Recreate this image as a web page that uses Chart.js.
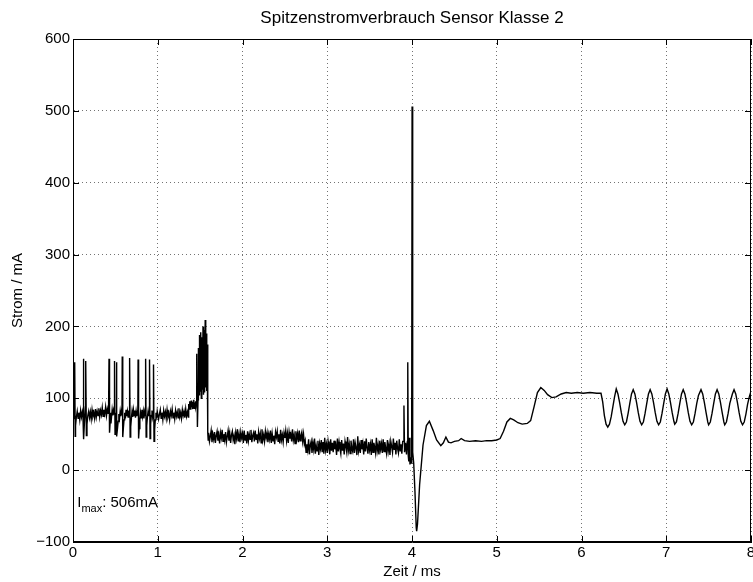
<!DOCTYPE html>
<html>
<head>
<meta charset="utf-8">
<script src="https://cdn.jsdelivr.net/npm/chart.js@4.4.0/dist/chart.umd.min.js"></script>
<style>
  html, body { margin: 0; padding: 0; background: #fff; }
</style>
</head>
<body>
<canvas id="stromChart" width="753" height="582"></canvas>
<script>
// Abschnitt A: Grundlast mit Spitzen
const zeitA = [0.000, 0.010, 0.020, 0.026, 0.030, 0.040, 0.050, 0.060, 0.070, 0.080,
  0.090, 0.100, 0.110, 0.118, 0.122, 0.128, 0.135, 0.143, 0.148, 0.152,
  0.158, 0.165, 0.175, 0.185, 0.195, 0.205, 0.215, 0.225, 0.235, 0.245,
  0.255, 0.265, 0.275, 0.285, 0.295, 0.305, 0.315, 0.325, 0.335, 0.345,
  0.355, 0.365, 0.375, 0.385, 0.395, 0.405, 0.415, 0.420, 0.425, 0.431,
  0.438, 0.446, 0.454, 0.462, 0.470, 0.478, 0.485, 0.490, 0.496, 0.503,
  0.508, 0.512, 0.518, 0.525, 0.533, 0.541, 0.549, 0.557, 0.565, 0.573,
  0.578, 0.581, 0.587, 0.594, 0.602, 0.610, 0.618, 0.626, 0.634, 0.642,
  0.650, 0.658, 0.664, 0.668, 0.674, 0.681, 0.689, 0.697, 0.705, 0.713,
  0.721, 0.729, 0.737, 0.745, 0.753, 0.761, 0.765, 0.768, 0.774, 0.781,
  0.789, 0.797, 0.805, 0.813, 0.821, 0.829, 0.837, 0.845, 0.852, 0.857,
  0.863, 0.870, 0.878, 0.886, 0.894, 0.899, 0.903, 0.909, 0.916, 0.924,
  0.932, 0.940, 0.946, 0.950, 0.956, 0.963, 0.971, 0.979, 0.987, 0.994];
const stromA = [78, 71, 150, 47, 62, 74, 82, 72, 80, 70,
  83, 74, 81, 73, 155, 43, 66, 80, 74, 152,
  48, 64, 76, 82, 73, 81, 71, 84, 75, 80,
  72, 85, 74, 82, 76, 86, 74, 83, 77, 87,
  75, 84, 78, 88, 76, 85, 79, 89, 155, 52,
  66, 80, 73, 84, 76, 83, 78, 152, 50, 70,
  80, 150, 47, 58, 68, 78, 72, 82, 75, 83,
  77, 158, 46, 58, 70, 80, 72, 84, 75, 82,
  74, 83, 77, 156, 46, 60, 72, 82, 74, 84,
  76, 83, 73, 82, 75, 81, 76, 154, 44, 58,
  70, 80, 73, 84, 75, 82, 72, 81, 76, 155,
  46, 62, 74, 82, 75, 80, 154, 44, 64, 76,
  83, 74, 79, 147, 40, 56, 70, 80, 72, 82];

// Abschnitt B: Stufe und Spitzen um 1.5 ms
const zeitB = [1.00, 1.01, 1.02, 1.03, 1.04, 1.05, 1.06, 1.07, 1.08, 1.09,
  1.10, 1.11, 1.12, 1.13, 1.14, 1.15, 1.16, 1.17, 1.18, 1.19,
  1.20, 1.21, 1.22, 1.23, 1.24, 1.25, 1.26, 1.27, 1.28, 1.29,
  1.30, 1.31, 1.32, 1.33, 1.34, 1.35, 1.36,
  1.365, 1.37, 1.375, 1.38, 1.385, 1.39, 1.395, 1.40, 1.405, 1.41, 1.415, 1.42, 1.425, 1.43, 1.435, 1.44, 1.445, 1.45, 1.455,
  1.46, 1.468, 1.475, 1.48, 1.487, 1.493, 1.50, 1.507, 1.514, 1.52, 1.527, 1.534, 1.54, 1.547, 1.553, 1.56, 1.566, 1.572,
  1.578, 1.583, 1.59, 1.595];
const stromB = [82, 71, 78, 84, 72, 80, 70, 83, 75, 81,
  72, 84, 74, 79, 70, 82, 76, 85, 73, 80,
  71, 83, 75, 81, 73, 86, 74, 80, 72, 84,
  76, 82, 73, 85, 75, 81, 74,
  92, 85, 96, 86, 94, 84, 97, 88, 95, 85, 93, 87, 98, 86, 94, 89, 96, 88, 92,
  162, 60, 98, 170, 105, 188, 110, 192, 100, 185, 112, 200, 105, 195, 108, 209, 115, 190,
  110, 175, 52, 42];

// Abschnitt C: Rauschen um 45 mA
const zeitC = [1.60, 1.61, 1.62, 1.63, 1.64, 1.65, 1.66, 1.67, 1.68, 1.69,
  1.70, 1.71, 1.72, 1.73, 1.74, 1.75, 1.76, 1.77, 1.78, 1.79,
  1.80, 1.81, 1.82, 1.83, 1.84, 1.85, 1.86, 1.87, 1.88, 1.89,
  1.90, 1.91, 1.92, 1.93, 1.94, 1.95, 1.96, 1.97, 1.98, 1.99,
  2.00, 2.01, 2.02, 2.03, 2.04, 2.05, 2.06, 2.07, 2.08, 2.09,
  2.10, 2.11, 2.12, 2.13, 2.14, 2.15, 2.16, 2.17, 2.18, 2.19,
  2.20, 2.21, 2.22, 2.23, 2.24, 2.25, 2.26, 2.27, 2.28, 2.29,
  2.30, 2.31, 2.32, 2.33, 2.34, 2.35, 2.36, 2.37, 2.38, 2.39,
  2.40, 2.41, 2.42, 2.43, 2.44, 2.45, 2.46, 2.47, 2.48, 2.49,
  2.50, 2.51, 2.52, 2.53, 2.54, 2.55, 2.56, 2.57, 2.58, 2.59,
  2.60, 2.61, 2.62, 2.63, 2.64, 2.65, 2.66, 2.67, 2.68, 2.69,
  2.70, 2.71, 2.72, 2.73];
const stromC = [52, 40, 47, 55, 39, 50, 43, 53, 38, 48,
  54, 41, 49, 37, 52, 45, 56, 40, 50, 42,
  53, 39, 47, 55, 41, 51, 38, 49, 54, 42,
  48, 36, 52, 44, 57, 40, 50, 39, 53, 45,
  51, 38, 55, 42, 49, 37, 54, 41, 50, 43,
  56, 39, 48, 52, 40, 55, 43, 50, 37, 53,
  44, 51, 38, 57, 42, 49, 40, 54, 45, 52,
  39, 50, 43, 55, 38, 51, 41, 48, 36, 53,
  46, 54, 40, 50, 37, 56, 42, 49, 39, 52,
  45, 55, 41, 51, 38, 53, 44, 50, 40, 57,
  42, 49, 37, 54, 43, 51, 39, 55, 41, 48,
  53, 40, 50, 36];

// Abschnitt D: Rauschen um 33 mA
const zeitD = [2.74, 2.75, 2.76, 2.77, 2.78, 2.79,
  2.80, 2.81, 2.82, 2.83, 2.84, 2.85, 2.86, 2.87, 2.88, 2.89,
  2.90, 2.91, 2.92, 2.93, 2.94, 2.95, 2.96, 2.97, 2.98, 2.99,
  3.00, 3.01, 3.02, 3.03, 3.04, 3.05, 3.06, 3.07, 3.08, 3.09,
  3.10, 3.11, 3.12, 3.13, 3.14, 3.15, 3.16, 3.17, 3.18, 3.19,
  3.20, 3.21, 3.22, 3.23, 3.24, 3.25, 3.26, 3.27, 3.28, 3.29,
  3.30, 3.31, 3.32, 3.33, 3.34, 3.35, 3.36, 3.37, 3.38, 3.39,
  3.40, 3.41, 3.42, 3.43, 3.44, 3.45, 3.46, 3.47, 3.48, 3.49,
  3.50, 3.51, 3.52, 3.53, 3.54, 3.55, 3.56, 3.57, 3.58, 3.59,
  3.60, 3.61, 3.62, 3.63, 3.64, 3.65, 3.66, 3.67, 3.68, 3.69,
  3.70, 3.71, 3.72, 3.73, 3.74, 3.75, 3.76, 3.77, 3.78, 3.79,
  3.80, 3.81, 3.82, 3.83, 3.84, 3.85, 3.86, 3.87, 3.88, 3.89];
const stromD = [41, 25, 36, 28, 43, 22,
  35, 40, 24, 38, 29, 44, 23, 34, 27, 41,
  21, 37, 30, 42, 25, 39, 23, 45, 28, 36,
  24, 40, 31, 22, 43, 27, 38, 25, 41, 29,
  35, 21, 44, 26, 39, 30, 23, 42, 27, 37,
  22, 40, 33, 25, 46, 28, 36, 23, 41, 30,
  26, 43, 24, 38, 31, 21, 47, 27, 35, 24,
  42, 29, 37, 22, 40, 26, 44, 31, 23, 39,
  28, 36, 21, 43, 25, 38, 32, 24, 45, 27,
  35, 22, 41, 29, 37, 24, 43, 26, 39, 30,
  23, 42, 27, 36, 21, 40, 33, 25, 44, 28,
  38, 22, 41, 30, 24, 43, 27, 36, 23, 40];

// Abschnitt E: Einschaltspitze bei 4 ms
const zeitE = [3.895, 3.905, 3.912, 3.925, 3.935, 3.945, 3.950, 3.956, 3.962, 3.970, 3.976, 3.984, 3.990, 3.996, 4.001, 4.008,
  4.020, 4.035, 4.050, 4.055, 4.065, 4.090, 4.130, 4.170, 4.205, 4.250, 4.290, 4.340, 4.370, 4.400, 4.430, 4.460];
const stromE = [40, 90, 25, 38, 22, 40, 150, 20, 12, 45, 8, 18, 10, 22, 506, 25,
  10, -30, -80, -85, -75, -20, 35, 62, 68, 55, 42, 34, 38, 46, 39, 38];

// Abschnitt F: Stufen und Schwingung
const zeitF = [4.50, 4.55, 4.58, 4.62, 4.68, 4.75, 4.82, 4.88, 4.94, 5.00,
  5.04, 5.08, 5.12, 5.16, 5.20, 5.25, 5.30, 5.36, 5.40, 5.44,
  5.48, 5.52, 5.56, 5.60, 5.65, 5.70, 5.76, 5.82, 5.88, 5.95,
  6.02, 6.10, 6.18, 6.23,
  6.25, 6.27, 6.29, 6.31, 6.33, 6.35, 6.37, 6.39, 6.41,
  6.43, 6.45, 6.47, 6.49, 6.51, 6.53, 6.55, 6.57, 6.59, 6.61,
  6.63, 6.65, 6.67, 6.69, 6.71, 6.73, 6.75, 6.77, 6.79, 6.81,
  6.83, 6.85, 6.87, 6.89, 6.91, 6.93, 6.95, 6.97, 6.99, 7.01,
  7.03, 7.05, 7.07, 7.09, 7.10, 7.12, 7.14, 7.16, 7.18, 7.20,
  7.22, 7.24, 7.26, 7.28, 7.30, 7.32, 7.34, 7.36, 7.38, 7.41,
  7.43, 7.45, 7.47, 7.49, 7.50, 7.52, 7.54, 7.56, 7.58, 7.60,
  7.62, 7.64, 7.66, 7.68, 7.69, 7.71, 7.73, 7.75, 7.78, 7.80,
  7.82, 7.84, 7.86, 7.88, 7.90, 7.92, 7.94, 7.96, 7.98, 8.00];
const stromF = [40, 41, 44, 41, 40, 41, 40, 41, 41, 42,
  44, 54, 67, 72, 70, 66, 64, 65, 69, 88,
  108, 115, 111, 105, 101, 102, 106, 108, 107, 108,
  107, 108, 107, 107,
  95, 76, 64, 60, 64, 74, 88, 102, 113,
  106, 94, 80, 68, 63, 67, 79, 93, 106, 112,
  106, 94, 80, 68, 63, 67, 79, 93, 106, 112,
  106, 94, 80, 68, 63, 67, 79, 93, 106, 113,
  106, 94, 80, 68, 64, 67, 79, 93, 106, 112,
  106, 94, 80, 68, 63, 67, 79, 93, 104, 112,
  106, 94, 80, 67, 63, 67, 79, 93, 106, 112,
  106, 94, 80, 67, 63, 67, 79, 93, 106, 112,
  106, 94, 80, 68, 63, 67, 78, 92, 102, 110];

const xTicks = [0, 1, 2, 3, 4, 5, 6, 7, 8];
const yTicks = [-100, 0, 100, 200, 300, 400, 500, 600];
const iMax = 506; // mA

const FONT = "'Liberation Sans', Arial, Helvetica, sans-serif";

const zeit = [].concat(zeitA, zeitB, zeitC, zeitD, zeitE, zeitF);
const strom = [].concat(stromA, stromB, stromC, stromD, stromE, stromF);
const punkte = zeit.map((t, i) => ({ x: t, y: strom[i] }));

// MATLAB-Stil: Rahmen + nach innen zeigende Ticks
const rahmenPlugin = {
  id: 'rahmen',
  afterDraw(chart) {
    const { ctx, chartArea: a, scales: { x, y } } = chart;
    ctx.save();
    ctx.strokeStyle = '#000';
    ctx.lineWidth = 1;
    ctx.beginPath();
    xTicks.forEach(v => {
      const px = Math.round(x.getPixelForValue(v)) + 0.5;
      ctx.moveTo(px, a.bottom); ctx.lineTo(px, a.bottom - 6);
      ctx.moveTo(px, a.top); ctx.lineTo(px, a.top + 6);
    });
    yTicks.forEach(v => {
      const py = Math.round(y.getPixelForValue(v)) + 0.5;
      ctx.moveTo(a.left, py); ctx.lineTo(a.left + 6, py);
      ctx.moveTo(a.right, py); ctx.lineTo(a.right - 6, py);
    });
    ctx.stroke();
    ctx.strokeRect(Math.round(a.left) + 0.5, Math.round(a.top) + 0.5,
      Math.round(a.width) - 1, Math.round(a.height) - 1);
    ctx.restore();
  }
};

// Beschriftung I_max
const imaxPlugin = {
  id: 'imax',
  afterDatasetsDraw(chart) {
    const { ctx, scales: { x, y } } = chart;
    let px = x.getPixelForValue(0.05);
    const py = y.getPixelForValue(-46);
    ctx.save();
    ctx.fillStyle = '#000';
    ctx.textBaseline = 'middle';
    ctx.font = '15px ' + FONT;
    ctx.fillText('I', px, py);
    px += ctx.measureText('I').width;
    ctx.font = '11px ' + FONT;
    ctx.fillText('max', px, py + 6);
    px += ctx.measureText('max').width;
    ctx.font = '15px ' + FONT;
    ctx.fillText(': ' + iMax + 'mA', px, py);
    ctx.restore();
  }
};

new Chart(document.getElementById('stromChart'), {
  type: 'line',
  data: {
    datasets: [{
      data: punkte,
      borderColor: '#000',
      borderWidth: 1.4,
      pointRadius: 0,
      tension: 0,
      fill: false
    }]
  },
  options: {
    responsive: false,
    animation: false,
    layout: { padding: { left: 0, right: 2, top: 0, bottom: 0 } },
    plugins: {
      legend: { display: false },
      tooltip: { enabled: false },
      title: {
        display: true,
        text: 'Spitzenstromverbrauch Sensor Klasse 2',
        fullSize: false,
        color: '#000',
        font: { family: FONT, size: 17, weight: 'normal', lineHeight: 1.2 },
        padding: { top: 8, bottom: 10.6 }
      }
    },
    scales: {
      x: {
        type: 'linear',
        min: 0,
        max: 8,
        afterFit: s => { s.height = 40; s.paddingLeft = 0; s.paddingRight = 0; },
        afterBuildTicks: s => { s.ticks = xTicks.map(v => ({ value: v })); },
        ticks: { color: '#000', font: { family: FONT, size: 15 }, padding: 2, maxRotation: 0 },
        grid: { color: 'rgba(0,0,0,0.55)', drawTicks: false },
        border: { color: '#000', dash: [1, 3] },
        title: { display: true, text: 'Zeit / ms', color: '#000', font: { family: FONT, size: 15 }, padding: { top: 0, bottom: 1 } }
      },
      y: {
        type: 'linear',
        min: -100,
        max: 600,
        afterFit: s => { s.width = 73; },
        afterBuildTicks: s => { s.ticks = yTicks.map(v => ({ value: v })); },
        ticks: {
          color: '#000', font: { family: FONT, size: 15 }, padding: 3,
          callback: v => (v < 0 ? '\u2212' + Math.abs(v) : String(v))
        },
        grid: { color: 'rgba(0,0,0,0.55)', drawTicks: false },
        border: { color: '#000', dash: [1, 3] },
        title: { display: true, text: 'Strom / mA', color: '#000', font: { family: FONT, size: 15 }, padding: { top: 9, bottom: 0 } }
      }
    }
  },
  plugins: [rahmenPlugin, imaxPlugin]
});
</script>
</body>
</html>
